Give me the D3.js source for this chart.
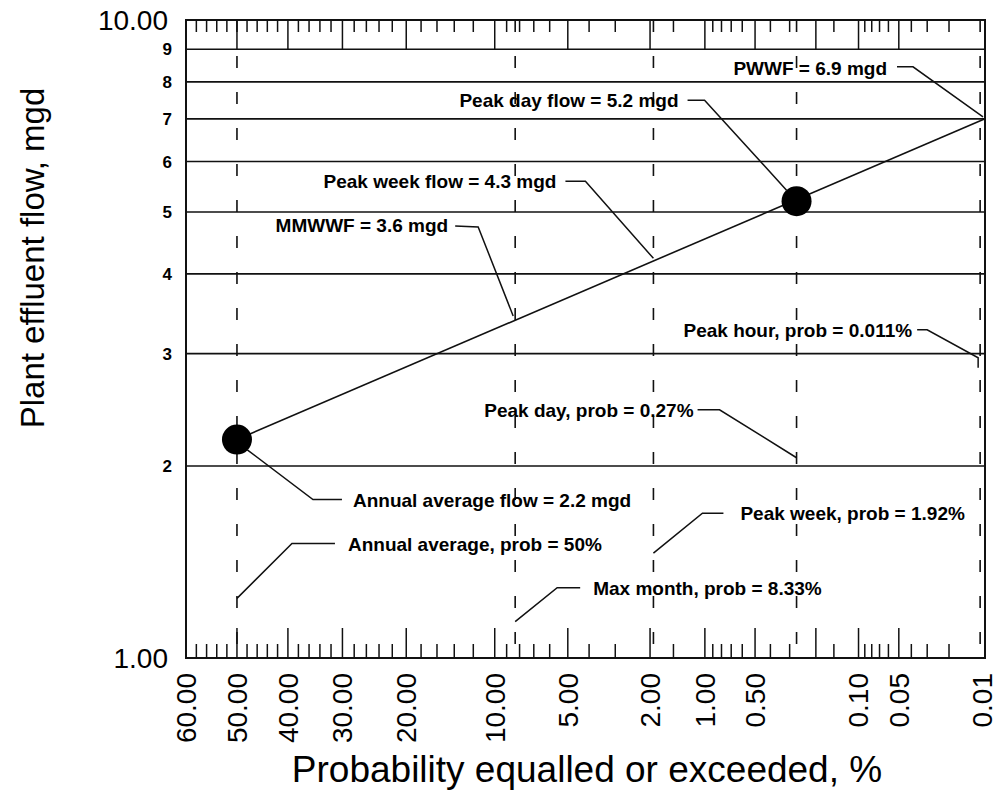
<!DOCTYPE html>
<html>
<head>
<meta charset="utf-8">
<script src="https://cdn.jsdelivr.net/npm/d3@7"></script>
<style>
  body { margin: 0; background: #fff; }
  svg { display: block; font-family: Arial, "Liberation Sans", sans-serif; }
</style>
</head>
<body>
<svg id="chart"></svg>
<script>
// exceedance probability, % (tick marks on the probability axis)
const probMajor = [60, 50, 40, 30, 20, 10, 5, 2, 1, 0.5, 0.2, 0.1, 0.05, 0.01];
const probMinor = [58, 56, 54, 52, 48, 46, 44, 42, 38, 36, 34, 32, 28, 26, 24, 22,
                   18, 16, 14, 12, 9, 8, 7, 6, 4, 3, 1.5, 0.9, 0.8, 0.7, 0.6, 0.4, 0.3,
                   0.15, 0.09, 0.08, 0.07, 0.06, 0.04, 0.03, 0.02];
const probLabels = [60, 50, 40, 30, 20, 10, 5, 2, 1, 0.5, 0.1, 0.05, 0.01];

// flow, mgd
const flowGrid = [2, 3, 4, 5, 6, 7, 8, 9];
const flowLabelsBig = [1, 10];

// event probabilities drawn as dashed verticals
const eventProbs = [50, 8.33, 1.92, 0.27, 0.011];

// fitted line and the two known points
const lineProbs = [50, 0.01];
const lineFlows = [2.2, 7.0];
const pointProbs = [50, 0.27];
const pointFlows = [2.2, 5.2];

// annotations: text and the spot the leader points at
const noteTexts = [
    'PWWF = 6.9 mgd',
    'Peak day flow = 5.2 mgd',
    'Peak week flow = 4.3 mgd',
    'MMWWF = 3.6 mgd',
    'Peak hour, prob = 0.011%',
    'Peak day, prob = 0.27%',
    'Annual average flow = 2.2 mgd',
    'Annual average, prob = 50%',
    'Max month, prob = 8.33%',
    'Peak week, prob = 1.92%'
];
const noteProbs = [0.01, 0.27, 1.92, 8.33, 0.011, 0.27, 50, 50, 8.33, 1.92];
const noteFlows = [7.0, 5.2, 4.2, 3.4, 2.85, 2.06, 2.2, 1.24, 1.14, 1.46];

// leader layout in pixels, relative to the target point
const noteLayout = [
    { pts: [[-2, -2], [-72, -52], [-88, -52]], tx: -98, ty: -51, anchor: 'end' },
    { pts: [[-10, -11], [-92, -101], [-109, -101]], tx: -118, ty: -101, anchor: 'end' },
    { pts: [[0, -2], [-68, -79], [-88, -79]], tx: -97, ty: -79, anchor: 'end' },
    { pts: [[-2, -3], [-37, -92], [-60, -93]], tx: -67, ty: -94, anchor: 'end' },
    { pts: [[-2, 0], [-2, -10], [-53, -38], [-63, -38]], tx: -68, ty: -38, anchor: 'end' },
    { pts: [[0, 0], [-77, -48], [-99, -48]], tx: -103, ty: -48, anchor: 'end' },
    { pts: [[10, 10], [76, 60], [105, 60]], tx: 116, ty: 61, anchor: 'start' },
    { pts: [[0, 0], [55, -55], [98, -55]], tx: 111, ty: -54, anchor: 'start' },
    { pts: [[0, 0], [42, -34], [65, -34]], tx: 78, ty: -34, anchor: 'start' },
    { pts: [[0, 0], [49, -40], [70, -40]], tx: 87, ty: -40, anchor: 'start' }
];

const W = 999, H = 793;
const margin = { left: 186, right: 14, top: 20, bottom: 135 };

// inverse of the standard normal cdf (Acklam)
const normInv = (p) => {
    const a = [-3.969683028665376e+01, 2.209460984245205e+02, -2.759285104469687e+02,
               1.383577518672690e+02, -3.066479806614716e+01, 2.506628277459239e+00];
    const b = [-5.447609879822406e+01, 1.615858368580409e+02, -1.556989798598866e+02,
               6.680131188771972e+01, -1.328068155288572e+01];
    const c = [-7.784894002430293e-03, -3.223964580411365e-01, -2.400758277161838e+00,
               -2.549732539343734e+00, 4.374664141464968e+00, 2.938163982698783e+00];
    const d = [7.784695709041462e-03, 3.224671290700398e-01, 2.445134137142996e+00,
               3.754408661907416e+00];
    const plow = 0.02425;
    let q, r;
    if (p < plow) {
        q = Math.sqrt(-2 * Math.log(p));
        return (((((c[0]*q + c[1])*q + c[2])*q + c[3])*q + c[4])*q + c[5]) /
               ((((d[0]*q + d[1])*q + d[2])*q + d[3])*q + 1);
    }
    if (p <= 1 - plow) {
        q = p - 0.5; r = q * q;
        return (((((a[0]*r + a[1])*r + a[2])*r + a[3])*r + a[4])*r + a[5]) * q /
               (((((b[0]*r + b[1])*r + b[2])*r + b[3])*r + b[4])*r + 1);
    }
    q = Math.sqrt(-2 * Math.log(1 - p));
    return -(((((c[0]*q + c[1])*q + c[2])*q + c[3])*q + c[4])*q + c[5]) /
            ((((d[0]*q + d[1])*q + d[2])*q + d[3])*q + 1);
};

// exceedance % -> normal deviate
const probit = pct => normInv(1 - pct / 100);

const zScale = d3.scaleLinear()
    .domain([probit(60), probit(0.01)])
    .range([margin.left, W - margin.right]);
const x = pct => zScale(probit(pct));

const y = d3.scaleLog()
    .domain([1, 10])
    .range([H - margin.bottom, margin.top]);

const chart = d3.select('#chart')
    .attr('width', W)
    .attr('height', H);

const x0 = margin.left, x1 = W - margin.right;
const y0 = H - margin.bottom, y1 = margin.top;

// horizontal grid
chart.append('g').selectAll('line')
    .data(flowGrid)
    .enter()
    .append('line')
    .attr('x1', x0).attr('x2', x1)
    .attr('y1', d => y(d)).attr('y2', d => y(d))
    .attr('stroke', '#111')
    .attr('stroke-width', 1.6);

// ticks on the bottom edge (pointing up) and top edge (pointing down)
const ticks = (values, yStart, yEnd) => {
    chart.append('g').selectAll('line')
        .data(values)
        .enter()
        .append('line')
        .attr('x1', d => x(d)).attr('x2', d => x(d))
        .attr('y1', yStart).attr('y2', yEnd)
        .attr('stroke', '#111')
        .attr('stroke-width', 1.5);
};
ticks(probMajor, y0, y0 - 30);
ticks(probMinor, y0, y0 - 14);
ticks(probMajor, y1, y(9));
ticks(probMinor, y1, y1 + 12);

// dashed event lines
chart.append('g').selectAll('line')
    .data(eventProbs)
    .enter()
    .append('line')
    .attr('x1', d => x(d)).attr('x2', d => x(d))
    .attr('y1', y1).attr('y2', y0)
    .attr('stroke', '#111')
    .attr('stroke-width', 1.6)
    .attr('stroke-dasharray', '12,24');

// frame
chart.append('rect')
    .attr('x', x0).attr('y', y1)
    .attr('width', x1 - x0).attr('height', y0 - y1)
    .attr('fill', 'none')
    .attr('stroke', '#111')
    .attr('stroke-width', 2);

// fitted line
const line = d3.line()
    .x(d => x(d[0]))
    .y(d => y(d[1]));

chart.append('path')
    .datum(d3.zip(lineProbs, lineFlows))
    .attr('d', line)
    .attr('fill', 'none')
    .attr('stroke', '#111')
    .attr('stroke-width', 1.6);

chart.selectAll('.dot')
    .data(d3.zip(pointProbs, pointFlows))
    .enter()
    .append('circle')
    .attr('cx', d => x(d[0]))
    .attr('cy', d => y(d[1]))
    .attr('r', 15)
    .attr('fill', '#000');

// annotations with leaders
const notes = chart.append('g');
noteTexts.forEach((t, i) => {
    const px = x(noteProbs[i]), py = y(noteFlows[i]);
    const lay = noteLayout[i];
    notes.append('polyline')
        .attr('points', lay.pts.map(p => `${px + p[0]},${py + p[1]}`).join(' '))
        .attr('fill', 'none')
        .attr('stroke', '#111')
        .attr('stroke-width', 1.5);
    notes.append('text')
        .attr('x', px + lay.tx)
        .attr('y', py + lay.ty)
        .attr('dy', '0.36em')
        .attr('text-anchor', lay.anchor)
        .attr('font-size', '19px')
        .attr('font-weight', 'bold')
        .text(t);
});

// y labels
chart.append('g').selectAll('text')
    .data(flowGrid)
    .enter()
    .append('text')
    .attr('x', 172)
    .attr('y', d => y(d))
    .attr('dy', '0.36em')
    .attr('text-anchor', 'end')
    .attr('font-size', '17px')
    .attr('font-weight', 'bold')
    .text(d3.format('d'));

chart.append('g').selectAll('text')
    .data(flowLabelsBig)
    .enter()
    .append('text')
    .attr('x', 168)
    .attr('y', d => y(d))
    .attr('dy', '0.36em')
    .attr('text-anchor', 'end')
    .attr('font-size', '28px')
    .text(d3.format('.2f'));

// x labels, rotated
chart.append('g').selectAll('text')
    .data(probLabels)
    .enter()
    .append('text')
    .attr('transform', d => `translate(${Math.min(x(d), 982)}, ${y0 + 15}) rotate(-90)`)
    .attr('dy', '0.35em')
    .attr('text-anchor', 'end')
    .attr('font-size', '28px')
    .text(d3.format('.2f'));

// axis titles
chart.append('text')
    .attr('x', 587)
    .attr('y', 782)
    .attr('text-anchor', 'middle')
    .attr('font-size', '37px')
    .text('Probability equalled or exceeded, %');

chart.append('text')
    .attr('transform', 'translate(32, 258) rotate(-90)')
    .attr('dy', '0.36em')
    .attr('text-anchor', 'middle')
    .attr('font-size', '33px')
    .text('Plant effluent flow, mgd');
</script>
</body>
</html>
